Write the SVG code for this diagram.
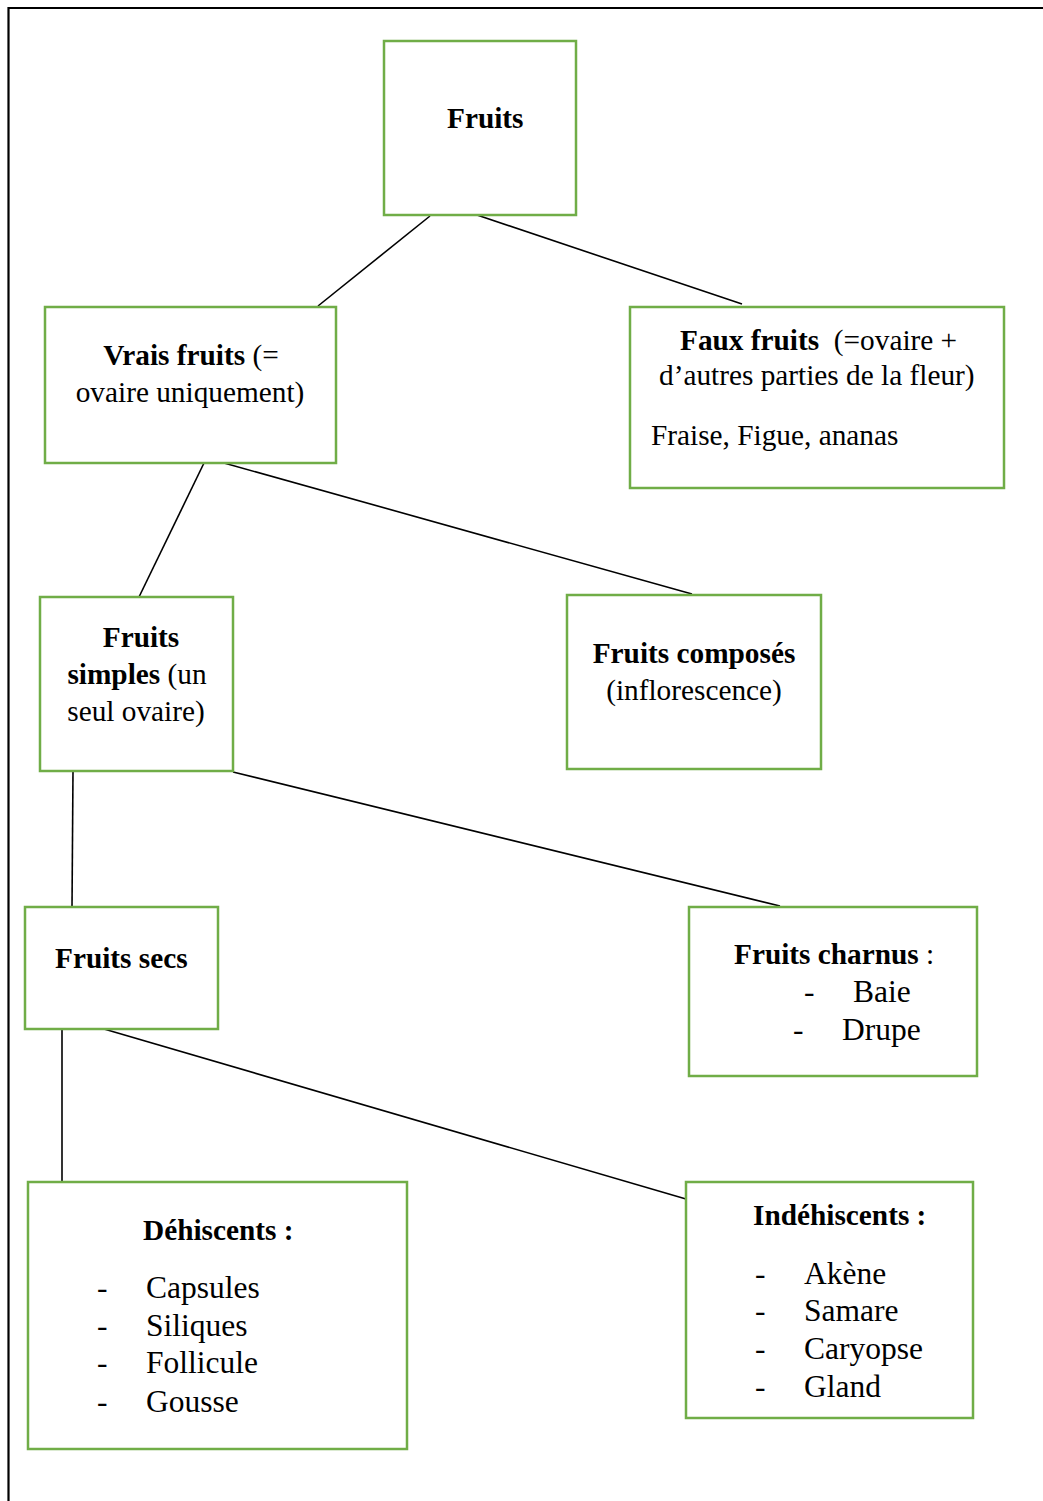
<svg xmlns="http://www.w3.org/2000/svg" width="1043" height="1501" viewBox="0 0 1043 1501">
  <style>
    .box { fill: #ffffff; stroke: #70AD47; stroke-width: 2.5; }
    .edge { stroke: #000000; stroke-width: 1.6; fill: none; }
    text { font-family: "Liberation Serif", "Times New Roman", serif; font-size: 29.3px; fill: #000000; }
    .b { font-weight: bold; }
    .c { text-anchor: middle; }
    .li { font-size: 31.5px; }
  </style>
  <rect width="1043" height="1501" fill="#ffffff"/>
  <!-- page frame -->
  <path d="M8.5,1501 V8 H1043" fill="none" stroke="#000000" stroke-width="2.2"/>

  <g id="connectors">
    <line class="edge" x1="430" y1="216" x2="318" y2="306"/>
    <line class="edge" x1="477" y1="215" x2="742" y2="304"/>
    <line class="edge" x1="204" y1="463" x2="139" y2="597"/>
    <line class="edge" x1="224" y1="463" x2="692" y2="594"/>
    <line class="edge" x1="73" y1="771" x2="72" y2="907"/>
    <line class="edge" x1="233" y1="772" x2="780" y2="906"/>
    <line class="edge" x1="62" y1="1029" x2="62" y2="1182"/>
    <line class="edge" x1="104" y1="1029" x2="686" y2="1199"/>
  </g>

  <g id="fruits">
    <rect class="box" x="384" y="41" width="192" height="174"/>
    <text class="b" x="447" y="128">Fruits</text>
  </g>

  <g id="vrais-fruits">
    <rect class="box" x="45" y="307" width="291" height="156"/>
    <text class="c" x="191" y="365"><tspan class="b">Vrais fruits</tspan> (=</text>
    <text class="c" x="190" y="402">ovaire uniquement)</text>
  </g>

  <g id="faux-fruits">
    <rect class="box" x="630" y="307" width="374" height="181"/>
    <text x="680" y="350" xml:space="preserve"><tspan class="b">Faux fruits</tspan>  (=ovaire +</text>
    <text x="659" y="385">d’autres parties de la fleur)</text>
    <text x="651" y="445">Fraise, Figue, ananas</text>
  </g>

  <g id="fruits-simples">
    <rect class="box" x="40" y="597" width="193" height="174"/>
    <text class="c b" x="141" y="647">Fruits</text>
    <text class="c" x="137" y="684"><tspan class="b">simples</tspan> (un</text>
    <text class="c" x="136" y="721">seul ovaire)</text>
  </g>

  <g id="fruits-composes">
    <rect class="box" x="567" y="595" width="254" height="174"/>
    <text class="c b" x="694" y="663">Fruits composés</text>
    <text class="c" x="694" y="700">(inflorescence)</text>
  </g>

  <g id="fruits-secs">
    <rect class="box" x="25" y="907" width="193" height="122"/>
    <text class="b" x="55" y="968">Fruits secs</text>
  </g>

  <g id="fruits-charnus">
    <rect class="box" x="689" y="907" width="288" height="169"/>
    <text x="734" y="964"><tspan class="b">Fruits charnus</tspan> :</text>
    <text class="li" x="804" y="1002">-</text>
    <text class="li" x="853" y="1002">Baie</text>
    <text class="li" x="793" y="1040">-</text>
    <text class="li" x="842" y="1040">Drupe</text>
  </g>

  <g id="dehiscents">
    <rect class="box" x="28" y="1182" width="379" height="267"/>
    <text class="b" x="143" y="1240">Déhiscents :</text>
    <text class="li" x="97" y="1298">-</text>
    <text class="li" x="146" y="1298">Capsules</text>
    <text class="li" x="97" y="1336">-</text>
    <text class="li" x="146" y="1336">Siliques</text>
    <text class="li" x="97" y="1373">-</text>
    <text class="li" x="146" y="1373">Follicule</text>
    <text class="li" x="97" y="1412">-</text>
    <text class="li" x="146" y="1412">Gousse</text>
  </g>

  <g id="indehiscents">
    <rect class="box" x="686" y="1182" width="287" height="236"/>
    <text class="b" x="753" y="1225">Indéhiscents :</text>
    <text class="li" x="755" y="1284">-</text>
    <text class="li" x="804" y="1284">Akène</text>
    <text class="li" x="755" y="1321">-</text>
    <text class="li" x="804" y="1321">Samare</text>
    <text class="li" x="755" y="1359">-</text>
    <text class="li" x="804" y="1359">Caryopse</text>
    <text class="li" x="755" y="1397">-</text>
    <text class="li" x="804" y="1397">Gland</text>
  </g>
</svg>
